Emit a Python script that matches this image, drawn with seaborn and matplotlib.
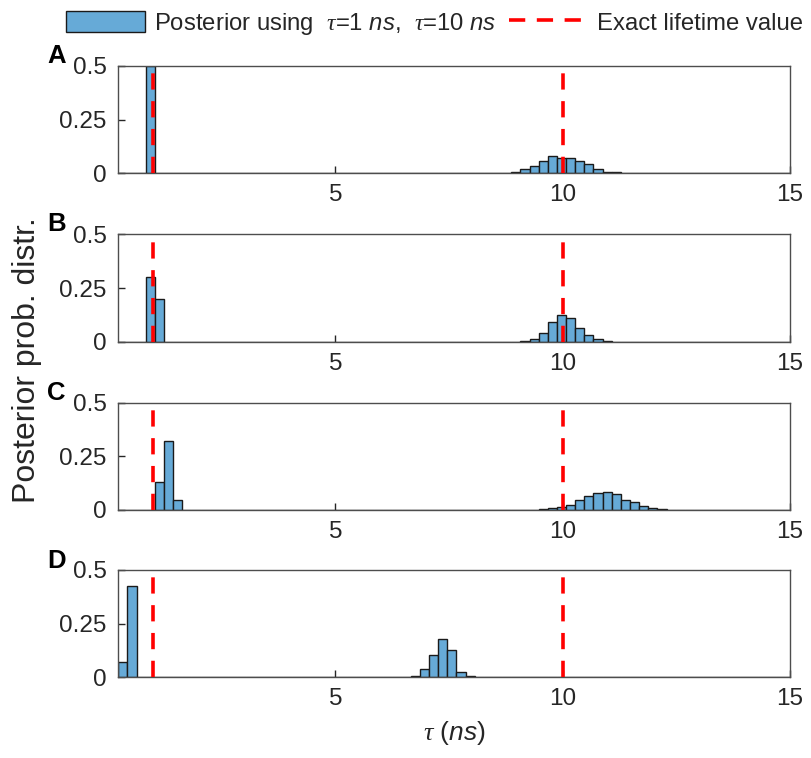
import numpy as np
import pandas as pd
import seaborn as sns
import matplotlib.pyplot as plt
from matplotlib.patches import Patch
from matplotlib.lines import Line2D

# histogram bin grid (same for every panel)
BIN0 = 0.226
BIN_W = 0.201
N_BINS = 75

# posterior heights: bin index -> value
a_idx = [3, 41, 42, 43, 44, 45, 46, 47, 48, 49, 50, 51, 52, 53, 54, 55, 56]
a_val = [0.5, 0.001, 0.003, 0.005, 0.02, 0.035, 0.058, 0.081, 0.072, 0.069,
         0.059, 0.045, 0.02, 0.007, 0.004, 0.002, 0.001]

b_idx = [3, 4, 44, 45, 46, 47, 48, 49, 50, 51, 52, 53]
b_val = [0.30, 0.20, 0.003, 0.014, 0.042, 0.092, 0.124, 0.112, 0.064, 0.03,
         0.011, 0.002]

c_idx = [4, 5, 6, 45, 46, 47, 48, 49, 50, 51, 52, 53, 54, 55, 56, 57, 58, 59,
         60, 61, 62]
c_val = [0.13, 0.32, 0.047, 0.001, 0.003, 0.009, 0.013, 0.023, 0.048, 0.067,
         0.079, 0.084, 0.073, 0.047, 0.037, 0.019, 0.009, 0.004, 0.002, 0.001,
         0.001]

d_idx = [0, 1, 32, 33, 34, 35, 36, 37, 38]
d_val = [0.07, 0.425, 0.006, 0.039, 0.105, 0.18, 0.127, 0.024, 0.006]

panels = ["A", "B", "C", "D"]
idx_list = [a_idx, b_idx, c_idx, d_idx]
val_list = [a_val, b_val, c_val, d_val]
exact_tau = [1, 10]

xticks = [5, 10, 15]
yticks = [0, 0.25, 0.5]

bar_color = "#66aad7"
dark = "#262626"

sns.set_style("ticks")
plt.rcParams["font.family"] = ["Liberation Sans", "DejaVu Sans"]
plt.rcParams["mathtext.fontset"] = "custom"
plt.rcParams["mathtext.it"] = "Liberation Serif:italic"
plt.rcParams["mathtext.rm"] = "Liberation Sans"
plt.rcParams["mathtext.sf"] = "Liberation Sans:italic"

fig = plt.figure(figsize=(8.12, 7.58), dpi=100)

edges = list(BIN0 + BIN_W * np.arange(N_BINS))
bottoms = [0.7714, 0.5492, 0.3272, 0.1065]
tops_px = [66, 234.3, 402.7, 571]

axes = []
for i, name in enumerate(panels):
    ax = fig.add_axes([0.1453, bottoms[i], 0.8276, 0.1416])
    df = pd.DataFrame({"tau": BIN0 + (np.array(idx_list[i]) + 0.5) * BIN_W,
                       "p": val_list[i]})
    sns.histplot(data=df, x="tau", weights="p", bins=edges, ax=ax,
                 color=bar_color, alpha=1, edgecolor="#1a1a1a", linewidth=1.0)
    for t in exact_tau:
        ax.axvline(t, color="red", lw=2.6, linestyle=(0, (4.5, 3.2)), zorder=5)
    ax.set_xlim(0.22, 15)
    ax.set_ylim(0, 0.5)
    ax.set_xticks(xticks)
    ax.set_yticks(yticks)
    ax.set_yticklabels(["0", "0.25", "0.5"])
    ax.set_ylabel("")
    ax.set_xlabel("")
    ax.tick_params(direction="in", length=5, width=1, colors=dark,
                   labelsize=17.5, pad=8)
    for s in ax.spines.values():
        s.set_color("#4d4d4d")
        s.set_linewidth(1.0)
    fig.text(47 / 812, 1 - (tops_px[i] - 3) / 758, name, fontsize=18.5,
             fontweight="bold", va="baseline", ha="left", color="black")
    axes.append(ax)

axes[-1].set_xlabel(r"$\tau$ ($\mathsf{ns}$)", fontsize=19, color=dark,
                    labelpad=6)
fig.text(27 / 812, 1 - 360 / 758, "Posterior prob. distr.", rotation=90,
         fontsize=23, color=dark, ha="center", va="center")

handles = [
    Patch(facecolor=bar_color, edgecolor="#1a1a1a", linewidth=1.0),
    Line2D([0], [0], color="red", lw=2.6, linestyle=(0, (4.5, 3.2))),
]
labels = [r"Posterior using  $\tau$=1 $\mathsf{ns}$,  $\tau$=10 $\mathsf{ns}$",
          "Exact lifetime value"]
fig.legend(handles, labels, loc="upper center", bbox_to_anchor=(0.535, 1.014),
           ncol=2, frameon=False, fontsize=17.2, handlelength=3.3,
           handleheight=1.0, handletextpad=0.4, columnspacing=0.5)

fig.savefig("out.png", dpi=100)
